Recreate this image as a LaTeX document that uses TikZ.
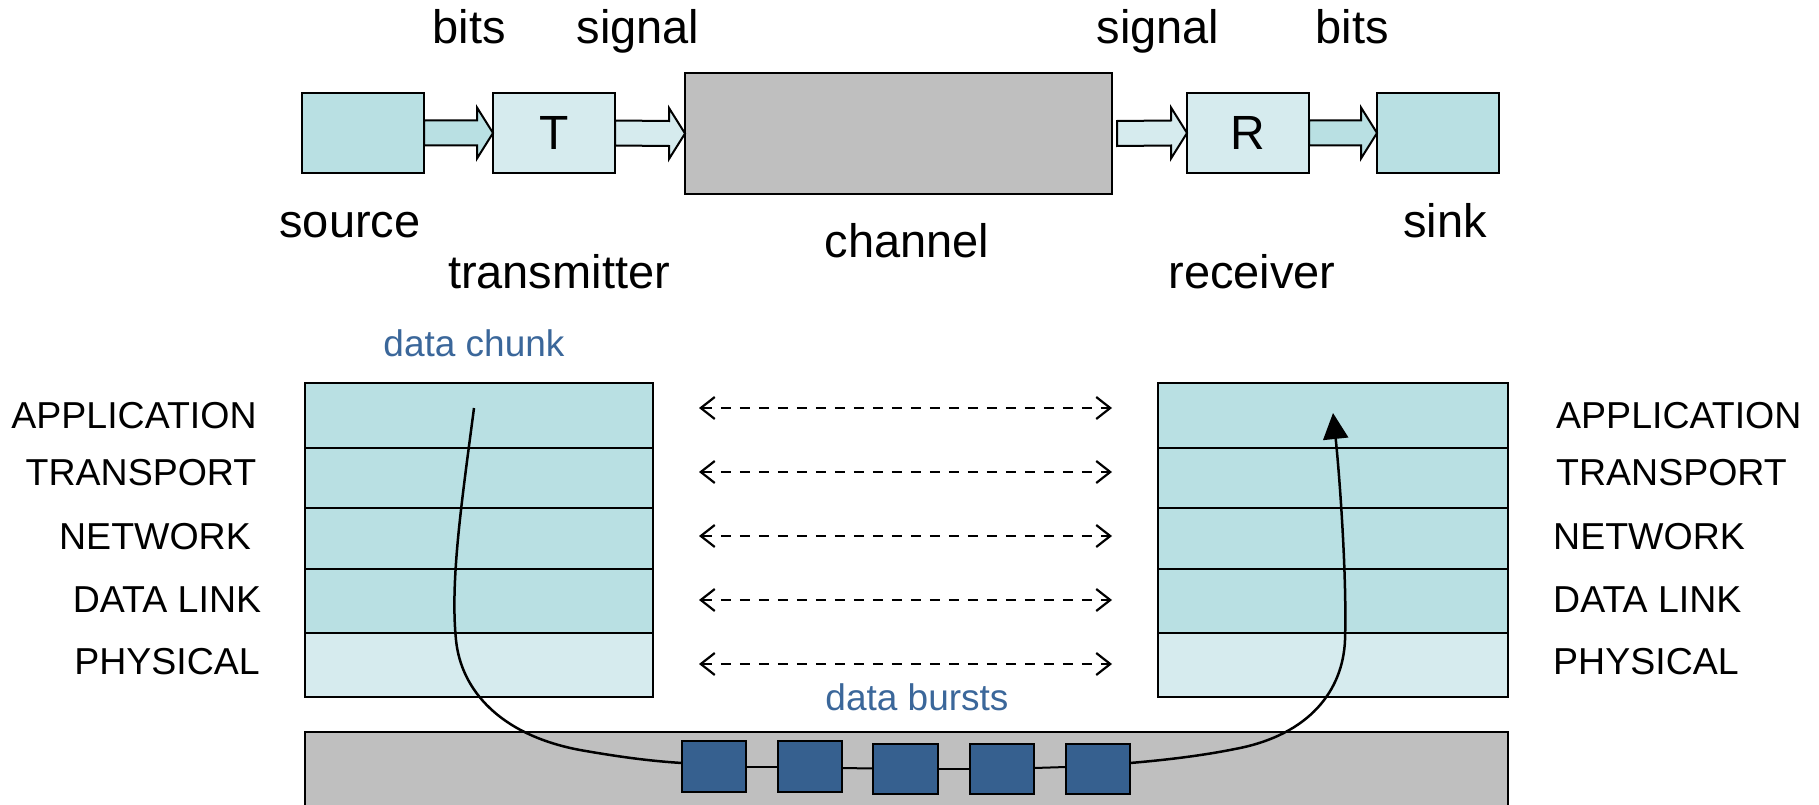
\documentclass[tikz,border=0pt]{standalone}
\usepackage{fontspec}
\setmainfont{Liberation Sans}
\usetikzlibrary{arrows.meta,calc}

\definecolor{tealdark}{HTML}{B9E0E3}
\definecolor{teallight}{HTML}{D6EBEE}
\definecolor{chgray}{HTML}{BFBFBF}
\definecolor{burstblue}{HTML}{36608F}
\definecolor{textblue}{HTML}{3B679A}

% block arrow from point #2 to the tip #3, filled with #1
\newcommand{\fatarrow}[3]{%
  \draw[line width=2pt, fill=#1, line join=miter]
    ($(#2)+(0,-12.5)$) -- ($(#3)+(-16,-12.5)$) -- ($(#3)+(-16,-25.5)$) --
    (#3) -- ($(#3)+(-16,25.5)$) -- ($(#3)+(-16,12.5)$) -- ($(#2)+(0,12.5)$) -- cycle;}

\begin{document}
\begin{tikzpicture}[x=1pt, y=-1pt,
  box/.style={draw, line width=2.2pt, inner sep=0pt, outer sep=0pt},
  unit/.style={box, minimum width=122, minimum height=80, font=\fontsize{48}{50}\selectfont},
  toplab/.style={inner sep=0pt, anchor=base, font=\fontsize{47}{50}\selectfont},
  layerlab/.style={inner sep=0pt, font=\fontsize{37.5}{40}\selectfont},
  bluelab/.style={inner sep=0pt, anchor=base, text=textblue, font=\fontsize{37}{40}\selectfont},
  layer/.style={box, line width=2.4pt},
  burst/.style={box, fill=burstblue, line width=2.4pt},
  peerlink/.style={line width=2.2pt, dash pattern=on 10pt off 9pt,
    {Straight Barb[length=14pt,width=22pt]}-{Straight Barb[length=14pt,width=22pt]}},
  flow/.style={line width=2.5pt}]

\useasboundingbox (0,0) rectangle (1819,805);
\clip (0,0) rectangle (1819,805);

% ---------- source -> transmitter -> channel -> receiver -> sink ----------
\node[unit, fill=tealdark] (src) at (363,133) {};
\node[unit, fill=teallight] (tx) at (554,133) {T};
\node[box, fill=chgray, minimum width=427, minimum height=121] (chan) at (898.5,133.5) {};
\node[unit, fill=teallight] (rx) at (1248,133) {R};
\node[unit, fill=tealdark] (snk) at (1438,133) {};

\coordinate (chanout) at ($(chan.east)+(5,0)$);
\fatarrow{tealdark}{src.east}{tx.west}
\fatarrow{teallight}{tx.east}{chan.west}
\fatarrow{teallight}{chanout}{rx.west}
\fatarrow{tealdark}{rx.east}{snk.west}

\node[toplab] (lbits1) at (469,44) {bits};
\node[toplab] (lsig1) at (638,44) {signal};
\node[toplab] (lsig2) at (1158,44) {signal};
\node[toplab] (lbits2) at (1352,44) {bits};

\node[toplab] (lsrc) at (350,237) {source};
\node[toplab] (ltx) at (559,288) {transmitter};
\node[toplab] (lchan) at (907,257) {channel};
\node[toplab] (lrx) at (1252,288) {receiver};
\node[toplab] (lsnk) at (1445,237) {sink};

% ---------- protocol stacks ----------
\foreach \n/\y/\h/\c in {1/415.5/65/tealdark, 2/478/60/tealdark, 3/538.5/61/tealdark,
                         4/601/64/tealdark, 5/665/64/teallight} {
  \node[layer, fill=\c, minimum width=348, minimum height=\h] (L\n) at (479,\y) {};
  \node[layer, fill=\c, minimum width=350, minimum height=\h] (R\n) at (1333,\y) {};
}

\foreach \n/\dy in {1/-7.5, 2/-6, 3/-2.5, 4/-1, 5/-1}
  \draw[peerlink] ($(L\n.east)+(46,\dy)$) -- ($(R\n.west)+(-46,\dy)$);

\node[layerlab, anchor=base] (la1) at (134,428) {APPLICATION};
\node[layerlab, anchor=base] (la2) at (141,485) {TRANSPORT};
\node[layerlab, anchor=base] (la3) at (155,549) {NETWORK};
\node[layerlab, anchor=base] (la4) at (167,612) {DATA LINK};
\node[layerlab, anchor=base] (la5) at (167,674) {PHYSICAL};

\node[layerlab, anchor=base west] (ra1) at (1556,428) {APPLICATION};
\node[layerlab, anchor=base west] (ra2) at (1556,485) {TRANSPORT};
\node[layerlab, anchor=base west] (ra3) at (1553,549) {NETWORK};
\node[layerlab, anchor=base west] (ra4) at (1553,612) {DATA LINK};
\node[layerlab, anchor=base west] (ra5) at (1553,674) {PHYSICAL};

\node[bluelab] (lchunk) at (474,356) {data chunk};
\node[bluelab] (lbursts) at (917,710) {data bursts};

% ---------- physical medium with bursts ----------
\node[box, fill=chgray, line width=2.4pt, anchor=north west,
      minimum width=1203, minimum height=120] (medium) at (305,732) {};

\node[burst, minimum width=64, minimum height=51] (B1) at (714,766.5) {};
\node[burst, minimum width=64, minimum height=51] (B2) at (810,766.5) {};
\node[burst, minimum width=65, minimum height=50] (B3) at (905.5,769) {};
\node[burst, minimum width=64, minimum height=50] (B4) at (1002,769) {};
\node[burst, minimum width=64, minimum height=50] (B5) at (1098,769) {};

\draw[line width=2pt] (B1.east) -- (B2.west);
\draw[line width=2pt] ($(B2.east)+(0,1.5)$) -- ($(B3.west)+(0,-0.5)$);
\draw[line width=2pt] (B3.east) -- (B4.west);
\draw[line width=2pt] ($(B4.east)+(0,-1)$) -- ($(B5.west)+(0,-2)$);

% ---------- path of the data through both stacks ----------
\coordinate (chunk) at (474,408);
\coordinate (deliver) at (1333,413);

\draw[flow] (chunk) .. controls (462,500) and (450,580) .. (456,640)
  .. controls (461,690) and (500,735) .. (580,750)
  .. controls (620,757) and (650,761) .. ($(B1.west)+(0,-3.5)$);

\draw[flow, -{Triangle[length=26pt,width=25pt]}]
  ($(B5.east)+(0,-6)$) .. controls (1165,760) and (1200,756) .. (1235,749)
  .. controls (1310,735) and (1343,690) .. (1345,640)
  .. controls (1347,580) and (1340,480) .. (deliver);

\end{tikzpicture}
\end{document}
